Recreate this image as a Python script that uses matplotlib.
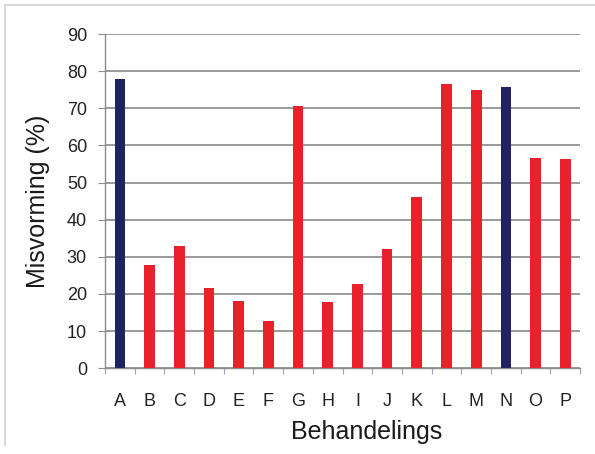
import matplotlib
matplotlib.use("Agg")
import matplotlib.pyplot as plt
from matplotlib.lines import Line2D

plt.rcParams['font.family'] = ['Liberation Sans', 'DejaVu Sans']

# behandelings en misvorming (%)
categories = ['A', 'B', 'C', 'D', 'E', 'F', 'G', 'H', 'I', 'J', 'K', 'L', 'M', 'N', 'O', 'P']
values = [77.8, 27.8, 33.0, 21.5, 18.0, 12.8, 70.6, 17.7, 22.6, 32.0, 46.2, 76.5, 75.0, 75.8, 56.7, 56.3]
controls = ['A', 'N']

navy = '#1f2460'
red = '#e8212b'
colors = [navy if c in controls else red for c in categories]

fig = plt.figure(figsize=(5.95, 4.54), dpi=100)
ax = fig.add_axes([0.1765, 0.189, 0.7985, 0.736])

x = list(range(len(categories)))
ax.bar(x, values, width=0.36, color=colors, zorder=3)

ax.set_xlim(-0.5, len(categories) - 0.5)
ax.set_ylim(0, 90)
ax.set_yticks(range(0, 91, 10))
ax.set_xticks(x)
ax.set_xticklabels(categories)
ax.set_xticks([i + 0.5 for i in x[:-1]] + [-0.5, len(categories) - 0.5], minor=True)

ax.grid(axis='y', color='#9a9a9a', linewidth=1.4, zorder=0)
for s in ['top', 'right']:
    ax.spines[s].set_visible(False)
for s in ['left', 'bottom']:
    ax.spines[s].set_color('#8c8c8c')
    ax.spines[s].set_linewidth(1.0)

ax.tick_params(axis='x', which='major', length=0, pad=18, labelsize=13, colors='#222222')
ax.tick_params(axis='x', which='minor', length=4, color='#a0a0c0', width=0.8)
ax.tick_params(axis='y', length=5, color='#8c8c8c', labelsize=13, pad=8, labelcolor='#222222')

ax.set_ylabel('Misvorming (%)', fontsize=18, labelpad=12, color='#1a1a1a')
ax.set_xlabel('Behandelings', fontsize=18, labelpad=6, color='#1a1a1a')
ax.xaxis.set_label_coords(0.55, -0.155)

# faint frame round the picture
fig.add_artist(Line2D([0.009, 1.0], [0.988, 0.988], transform=fig.transFigure,
                      color='#d8d8d8', linewidth=1.5))
fig.add_artist(Line2D([0.009, 0.009], [0.02, 0.988], transform=fig.transFigure,
                      color='#d8d8d8', linewidth=1.5))

fig.savefig('out.png', dpi=100)
